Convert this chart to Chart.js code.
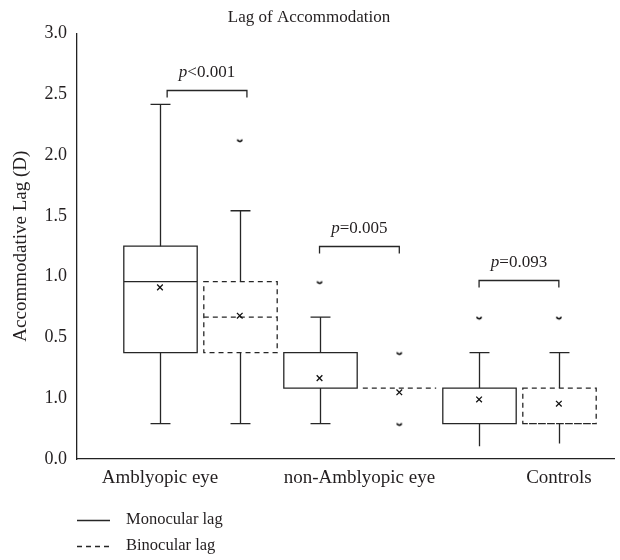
<!DOCTYPE html>
<html>
<head>
<meta charset="utf-8">
<script src="https://cdn.jsdelivr.net/npm/chart.js@4.4.0/dist/chart.umd.min.js"></script>
<style>
  body { margin: 0; background: #fff; }
  #wrap { width: 620px; height: 560px; }
</style>
</head>
<body>
<div id="wrap"><canvas id="grafica" width="620" height="560"></canvas></div>
<script>
// categories and tick labels (y tick text copied as printed in the figure)
const grupos = ['Amblyopic eye', 'non-Amblyopic eye', 'Controls'];
const series = ['Monocular lag', 'Binocular lag'];
const yTickLabels = ['0.0', '1.0', '0.5', '1.0', '1.5', '2.0', '2.5', '3.0'];

// monocular lag (D)
const monoMin = [0.25, 0.25, 0.09];
const monoQ1 = [0.75, 0.5, 0.25];
const monoMed = [1.25, 0.5, 0.25];
const monoQ3 = [1.5, 0.75, 0.5];
const monoMax = [2.5, 1.0, 0.75];
const monoMean = [1.21, 0.57, 0.42];
const monoOut = [[], [1.25], [1.0]];

// binocular lag (D)
const binoMin = [0.25, 0.5, 0.11];
const binoQ1 = [0.75, 0.5, 0.25];
const binoMed = [1.0, 0.5, 0.25];
const binoQ3 = [1.25, 0.5, 0.5];
const binoMax = [1.75, 0.5, 0.75];
const binoMean = [1.01, 0.47, 0.39];
const binoOut = [[2.25], [0.75, 0.25], [1.0]];

// comparisons
const pTextos = ['<0.001', '=0.005', '=0.093'];
const bracketNivel = [2.6, 1.5, 1.265];

(function(){
    const tinta = '#262626';
    const fuente = '"Liberation Serif", "DejaVu Serif", serif';
    const offset = 0.25;
    const anchoCaja = 0.46;
    const anchoCap = 0.125;

    Chart.defaults.font.family = fuente;
    Chart.defaults.font.size = 17;
    Chart.defaults.color = '#231f20';

    // little lower half circle for outliers
    const marcaOut = document.createElement('canvas');
    marcaOut.width = 8; marcaOut.height = 8;
    const mc = marcaOut.getContext('2d');
    mc.strokeStyle = '#000'; mc.lineWidth = 1.5;
    mc.beginPath(); mc.arc(4, 3.2, 2.4, 0.2, Math.PI - 0.2); mc.stroke();

    const cajas = [
        {min: monoMin, q1: monoQ1, med: monoMed, q3: monoQ3, max: monoMax, dx: -offset, dash: [], capBajo: [true, true, false]},
        {min: binoMin, q1: binoQ1, med: binoMed, q3: binoQ3, max: binoMax, dx: offset, dash: [5, 4], capBajo: [true, true, false]}
    ];

    const puntosMedia = [];
    const puntosOut = [];
    grupos.forEach((g, i) => {
        puntosMedia.push({x: i + 1 - offset, y: monoMean[i]});
        puntosMedia.push({x: i + 1 + offset, y: binoMean[i]});
        monoOut[i].forEach(v => puntosOut.push({x: i + 1 - offset, y: v}));
        binoOut[i].forEach(v => puntosOut.push({x: i + 1 + offset, y: v}));
    });

    const boxPlugin = {
        id: 'cajas',
        beforeDatasetsDraw(chart) {
            const {ctx, scales: {x, y}} = chart;
            const px = v => x.getPixelForValue(v);
            const hw = px(anchoCaja / 2) - px(0);
            const hc = px(anchoCap / 2) - px(0);
            ctx.save();
            ctx.strokeStyle = tinta;
            ctx.lineWidth = 1.3;
            cajas.forEach(c => {
                grupos.forEach((g, i) => {
                    const cx = Math.round(px(i + 1 + c.dx)) + 0.5;
                    const yq1 = y.getPixelForValue(c.q1[i]);
                    const yq3 = y.getPixelForValue(c.q3[i]);
                    const ymed = y.getPixelForValue(c.med[i]);
                    const ymin = y.getPixelForValue(c.min[i]);
                    const ymax = y.getPixelForValue(c.max[i]);
                    ctx.setLineDash([]);
                    ctx.beginPath();
                    if (c.max[i] > c.q3[i]) {
                        ctx.moveTo(cx, yq3); ctx.lineTo(cx, ymax);
                        ctx.moveTo(cx - hc, ymax); ctx.lineTo(cx + hc, ymax);
                    }
                    if (c.min[i] < c.q1[i]) {
                        ctx.moveTo(cx, yq1); ctx.lineTo(cx, ymin);
                        if (c.capBajo[i]) { ctx.moveTo(cx - hc, ymin); ctx.lineTo(cx + hc, ymin); }
                    }
                    ctx.stroke();
                    ctx.setLineDash(c.dash);
                    ctx.beginPath();
                    if (c.q3[i] > c.q1[i]) {
                        ctx.rect(cx - hw, yq3, hw * 2, yq1 - yq3);
                    }
                    ctx.moveTo(cx - hw, ymed); ctx.lineTo(cx + hw, ymed);
                    ctx.stroke();
                });
            });
            ctx.restore();
        },
        afterDraw(chart) {
            const {ctx, scales: {x, y}} = chart;
            ctx.save();
            ctx.strokeStyle = tinta;
            ctx.fillStyle = '#231f20';
            ctx.lineWidth = 1.3;
            // brackets with p values
            grupos.forEach((g, i) => {
                const shift = i === 0 ? 0.045 : 0;
                const x1 = x.getPixelForValue(i + 1 - offset + shift);
                const x2 = x.getPixelForValue(i + 1 + offset + shift);
                const yt = Math.round(y.getPixelForValue(bracketNivel[i])) + 0.5;
                ctx.beginPath();
                ctx.moveTo(x1, yt + 7); ctx.lineTo(x1, yt); ctx.lineTo(x2, yt); ctx.lineTo(x2, yt + 7);
                ctx.stroke();
                ctx.font = 'italic 17px ' + fuente;
                const wp = ctx.measureText('p').width;
                ctx.font = '17px ' + fuente;
                const wr = ctx.measureText(pTextos[i]).width;
                const x0 = (x1 + x2) / 2 - (wp + wr) / 2;
                ctx.textBaseline = 'middle';
                ctx.textAlign = 'left';
                ctx.font = 'italic 17px ' + fuente;
                ctx.fillText('p', x0, yt - 18);
                ctx.font = '17px ' + fuente;
                ctx.fillText(pTextos[i], x0 + wp, yt - 18);
            });
            // legend
            const ly = [520, 546];
            series.forEach((s, k) => {
                ctx.setLineDash(k ? [5, 4] : []);
                ctx.beginPath();
                ctx.moveTo(77, ly[k] + 0.5); ctx.lineTo(110, ly[k] + 0.5);
                ctx.stroke();
                ctx.setLineDash([]);
                ctx.font = '16.5px ' + fuente;
                ctx.textBaseline = 'middle';
                ctx.fillText(s, 126, ly[k]);
            });
            ctx.restore();
        }
    };

    const ctx = document.getElementById('grafica');
    new Chart(ctx, {
        type: 'scatter',
        data: {
            datasets: [{
                label: 'Media',
                data: puntosMedia,
                pointStyle: 'crossRot',
                radius: 4,
                borderColor: '#111',
                borderWidth: 1.3
            }, {
                label: 'Outliers',
                data: puntosOut,
                pointStyle: marcaOut,
                radius: 3
            }]
        },
        options: {
            responsive: false,
            animation: false,
            layout: { padding: { left: 0, right: 2, top: 0, bottom: 61 } },
            scales: {
                x: {
                    type: 'linear',
                    min: 0.23,
                    max: 3.6,
                    grid: { display: false, drawTicks: false },
                    border: { display: true, color: '#222', width: 1.3 },
                    afterBuildTicks: axis => { axis.ticks = [{value: 0.75}, {value: 2}, {value: 3.25}]; },
                    afterFit: axis => { axis.height = 40; },
                    ticks: {
                        autoSkip: false,
                        maxRotation: 0,
                        padding: 8,
                        font: { size: 19 },
                        callback: (v, i) => grupos[i]
                    }
                },
                y: {
                    min: 0,
                    max: 3,
                    grid: { display: false, drawTicks: false },
                    border: { display: true, color: '#222', width: 1.3 },
                    afterBuildTicks: axis => { axis.ticks = yTickLabels.map((t, i) => ({value: i * 3 / 7})); },
                    afterFit: axis => { axis.width = 77; },
                    title: { display: true, text: 'Accommodative Lag (D)', font: { size: 19 }, padding: { top: 10, bottom: 0 } },
                    ticks: {
                        autoSkip: false,
                        padding: 10,
                        font: { size: 18 },
                        callback: (v, i) => yTickLabels[i]
                    }
                }
            },
            plugins: {
                legend: { display: false },
                tooltip: { enabled: false },
                title: {
                    display: true,
                    text: 'Lag of Accommodation',
                    font: { size: 17, weight: 'normal' },
                    color: '#231f20',
                    padding: { top: 7, bottom: 6 }
                }
            }
        },
        plugins: [boxPlugin]
    });
})();
</script>
</body>
</html>
